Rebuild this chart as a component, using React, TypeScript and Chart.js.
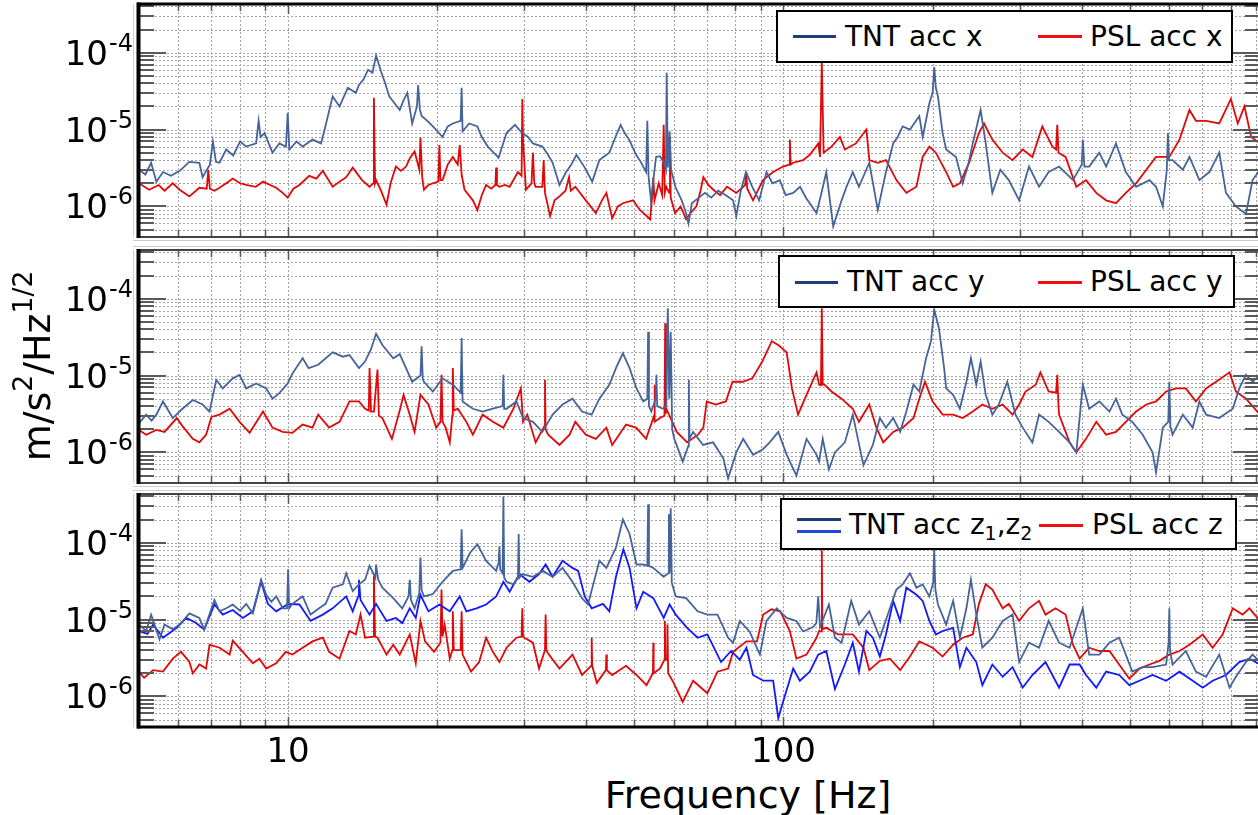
import React, { useEffect, useRef } from "react";
import { Chart, registerables } from "chart.js";

Chart.register(...registerables);

// ---------- axes ----------
const FREQ_MIN = 5;
const FREQ_MAX = 916;
const ASD_MIN = 4e-7;
const ASD_MAX = 4.3e-4;
const UNIT = 1e-6; // series values are given in units of 1e-6 m/s^2/Hz^1/2

const xGridValues = [6, 7, 8, 9, 10, 20, 30, 40, 50, 60, 70, 80, 90, 100, 200, 300, 400, 500, 600, 700, 800, 900];
const xMajorValues = [10, 100];
const xTickLabels = ["10", "100"];
const yMantissas = [1, 2, 3, 4, 5, 6, 7, 8, 9];
const yExponents = [-7, -6, -5, -4];
const yLabelExponents = [-4, -5, -6];
const yTickLabelBase = "10";

// ---------- series: [frequency Hz, value in 1e-6 m/s^2/Hz^1/2] ----------
type Pt = [number, number];

const tntX: Pt[] = [
  [5.0, 3.0], [5.15, 2.6], [5.29, 3.7], [5.42, 2.1], [5.59, 2.8], [5.8, 2.5], [6.04, 2.9], [6.32, 3.8], [6.62, 3.7], [6.72, 2.4],
  [6.95, 3.5], [7.05, 7.0], [7.15, 3.8], [7.27, 3.7], [7.5, 5.5], [7.75, 4.6], [8.0, 7.0], [8.23, 6.0], [8.62, 6.6], [8.72, 13],
  [8.8, 8], [8.96, 9], [9.3, 5], [9.6, 6.6], [9.9, 6], [9.98, 16.5], [10.06, 5.5], [10.4, 7], [10.7, 6], [11.2, 7.4],
  [11.65, 6.6], [11.85, 10], [12.3, 27], [12.7, 20], [13.2, 35], [13.7, 30], [13.9, 38], [14.2, 45], [14.5, 60], [14.8, 55],
  [15.05, 92], [15.4, 57], [15.7, 40], [16.0, 27], [16.4, 22], [16.8, 18], [17.1, 24], [17.4, 30], [17.8, 12], [18.2, 20],
  [18.3, 38], [18.45, 18], [18.6, 15], [19.1, 13], [19.6, 11], [20.5, 8], [21.0, 11], [21.5, 12], [22.3, 13], [22.4, 35],
  [22.5, 9.5], [23.2, 12], [24.1, 11], [24.6, 8], [25.3, 6], [26.0, 5], [26.6, 4.3], [27.6, 9], [28.7, 11.5], [29.7, 9],
  [30.5, 8], [31.2, 6.6], [32.6, 6], [33.4, 4.8], [34.2, 3.7], [35.3, 1.9], [36.4, 2.8], [37.3, 3.5], [38.2, 4.7], [39.7, 3.2],
  [41.1, 2.1], [42.5, 4], [43.5, 4.5], [44.5, 5], [45.8, 8], [46.9, 11.5], [47.8, 9], [48.8, 7.4], [50.4, 4.7], [51.5, 3.8],
  [52.8, 2.8], [53.1, 13], [53.4, 2.5], [54.0, 1.2], [55.3, 4.4], [56.3, 4.5], [57.4, 3.7], [57.9, 3.0], [58.1, 55], [58.4, 3.2],
  [58.9, 9.5], [59.3, 3], [60.5, 1.8], [62.3, 1.2], [63.3, 0.9], [64.3, 0.6], [65.3, 1.1], [67.5, 1.3], [69.4, 1.5], [71.5, 1.3],
  [73.8, 1.6], [76.5, 1.4], [79.1, 1.2], [80.3, 0.75], [82, 1.6], [84.0, 2.8], [86.5, 1.8], [89.3, 1.2], [92.4, 2.8], [95, 2.0],
  [98.3, 2.2], [101, 1.4], [104.6, 1.5], [108, 1.8], [111, 1.3], [116.6, 0.82], [119, 1.4], [122, 2.8], [126, 0.55], [131, 1.2],
  [134, 1.8], [138, 2.8], [142, 1.8], [149, 3.7], [155, 0.9], [161, 2.8], [166.5, 6.6], [170, 8], [174, 11], [180, 10],
  [188, 15], [191, 8], [197, 22], [200, 30], [201.5, 65], [203, 35], [205, 27], [209.5, 9], [213, 5.5], [223, 4.4],
  [230, 2], [236, 3.5], [241, 6.6], [250, 18], [256, 6.6], [264, 1.5], [274, 3], [285, 2.2], [299, 1.2], [313, 3.3],
  [328, 1.8], [343, 2.8], [360, 3.3], [384, 2.2], [400, 3.5], [402, 7.4], [405, 3.3], [414, 3.3], [434, 5], [448, 3.3],
  [469, 6.6], [491, 2.8], [515, 1.8], [548, 2.2], [565, 1.8], [583, 1.0], [594, 3], [597, 9], [600, 4], [610, 4],
  [640, 3], [660, 4.4], [691, 2.2], [724, 2.8], [758, 5], [782, 1.5], [819, 1.0], [858, 0.8], [885, 2.2], [916, 3],
];

const pslX: Pt[] = [
  [5.0, 2.0], [5.24, 1.65], [5.48, 1.9], [5.63, 1.6], [5.85, 2.0], [6.04, 1.65], [6.32, 1.35], [6.62, 1.75], [6.85, 1.7], [6.9, 3.0],
  [6.95, 1.7], [7.1, 1.6], [7.27, 1.75], [7.5, 2.0], [7.73, 2.3], [8.0, 2.0], [8.23, 1.9], [8.6, 1.8], [8.9, 2.1], [9.2, 1.9],
  [9.46, 1.75], [9.75, 1.5], [9.98, 1.3], [10.25, 1.7], [10.54, 1.9], [11.03, 2.5], [11.4, 2.3], [11.75, 2.9], [12.3, 1.8], [12.7, 2.1],
  [13.1, 2.4], [13.5, 3.2], [14.1, 2.2], [14.6, 1.8], [14.85, 2.0], [14.9, 26], [14.98, 2.0], [15.05, 2.2], [15.4, 1.6], [15.8, 1.05],
  [16.1, 2.0], [16.5, 3.3], [16.9, 2.9], [17.3, 3.3], [17.6, 4.2], [18.0, 5.2], [18.4, 3.0], [18.5, 7.8], [18.65, 2.4], [18.8, 1.65],
  [19.2, 1.9], [19.6, 2.0], [20.1, 2.1], [20.2, 6.3], [20.3, 2.2], [20.5, 2.2], [21.0, 3.5], [21.5, 4.4], [22.0, 3.5], [22.2, 6.3],
  [22.4, 2.6], [22.7, 1.65], [23.6, 1.2], [24.1, 0.9], [24.6, 1.4], [25.1, 1.9], [25.7, 1.7], [26.2, 1.9], [26.3, 3.2], [26.4, 1.9],
  [26.7, 1.8], [27.4, 1.9], [28.0, 1.8], [29.1, 2.8], [29.6, 2.5], [29.7, 25], [29.8, 7.4], [30.0, 3.5], [30.2, 1.65], [31.0, 2.0],
  [31.2, 5], [31.4, 2.0], [31.6, 1.8], [32.6, 1.8], [32.8, 4], [33.0, 1.5], [33.8, 0.75], [34.5, 1.2], [35.3, 1.35], [36.3, 1.6],
  [36.9, 2.4], [37.2, 1.6], [38.0, 1.8], [39.9, 1.2], [41.8, 0.82], [43.0, 1.2], [43.9, 1.5], [45.1, 0.7], [46.3, 1.0], [47.4, 1.1],
  [49.7, 1.2], [51.3, 0.9], [53.8, 0.68], [54.4, 1.5], [54.6, 2.4], [54.9, 1.2], [56.0, 2.0], [56.9, 1.4], [57.3, 11.5], [57.6, 1.5],
  [58.0, 1.8], [58.8, 1.5], [59.0, 8], [59.2, 1.3], [60.4, 0.82], [62.0, 1.0], [63.6, 0.68], [65.2, 0.85], [66.7, 1.0], [68.0, 1.6],
  [68.9, 2.4], [70.5, 1.9], [72.2, 1.65], [74.5, 1.4], [76.9, 1.8], [80.3, 1.5], [83.7, 1.9], [84.1, 2.8], [84.5, 1.7], [86.8, 1.2],
  [90.9, 2.2], [95.3, 2.8], [99.8, 3.3], [102.6, 3.5], [103, 7.4], [103.4, 3.5], [104.6, 3.7], [109.5, 4], [113, 4.7], [117.6, 6.6],
  [118.5, 4.4], [119.5, 75], [120.5, 5], [125, 6], [130, 8], [133, 5.5], [140, 6.6], [147, 10], [149, 4], [155, 3.7],
  [161, 4], [169, 2.2], [177, 1.5], [185.5, 1.8], [191, 4.4], [197, 6], [203, 5], [213, 2.8], [220, 1.8], [227, 2],
  [237, 3.7], [248, 9], [254, 12], [264, 7.4], [277, 5], [290, 4], [304, 5.5], [318, 4.4], [333, 11], [349, 6],
  [355, 5.5], [357, 11.5], [359, 5], [371, 4.4], [390, 1.8], [408, 2.2], [428, 1.5], [448, 1.2], [469, 1.1], [491, 1.5],
  [515, 2.0], [540, 3.0], [565, 4.4], [601, 4.4], [630, 7.4], [660, 18], [680, 13], [713, 13], [758, 12], [800, 25],
  [826, 12], [852, 20], [879, 8], [916, 6.6],
];

const tntY: Pt[] = [
  [5.0, 2.4], [5.17, 3.1], [5.3, 2.6], [5.42, 3.1], [5.59, 4.6], [5.85, 2.8], [6.12, 3.7], [6.42, 4.8], [6.72, 4.2], [6.94, 3.4],
  [7.16, 8.8], [7.38, 6.8], [7.73, 9.2], [7.98, 10.2], [8.23, 6.8], [8.62, 7.9], [9.03, 6.8], [9.3, 5], [9.6, 5.9], [9.98, 7.9],
  [10.2, 10.6], [10.7, 16.8], [11.0, 12.5], [11.5, 13.8], [12.3, 20], [12.9, 17.6], [13.3, 18.5], [13.9, 12.5], [14.3, 15.2], [14.7, 22],
  [15.05, 35], [15.5, 25], [16.3, 16.8], [16.8, 19], [17.3, 12.5], [17.8, 8.3], [18.5, 10], [18.6, 24], [18.7, 9], [18.8, 8.3],
  [19.6, 6.2], [20.5, 9.2], [21.5, 7.6], [22.3, 6], [22.4, 30.7], [22.5, 4.6], [23.6, 3.7], [24.7, 3.4], [25.9, 3.7], [27.1, 4],
  [27.2, 10.2], [27.3, 3.7], [27.6, 3.7], [28.9, 4.6], [29.8, 2.8], [31.2, 2.5], [32.6, 1.85], [34.2, 3.1], [35.8, 4.2], [37.5, 5],
  [39.2, 3.4], [41.0, 3.1], [42.5, 5], [44.5, 7.6], [45.9, 12.5], [47.4, 19.5], [48.9, 12.5], [50.5, 6.8], [52.1, 4.6], [53.1, 5],
  [53.3, 37], [53.5, 4], [54.1, 3.4], [55.2, 5], [55.4, 10.2], [55.6, 4], [57.1, 3.7], [58.0, 4], [58.4, 75], [58.8, 5],
  [59.2, 37], [59.6, 2], [60.2, 1.5], [62.6, 0.76], [64.2, 1.2], [64.4, 8.8], [64.6, 1.5], [65.7, 1.85], [68.8, 1.25], [72.1, 1.35],
  [75.6, 0.84], [77.3, 0.46], [80.3, 1.0], [82.9, 1.5], [86.8, 0.93], [90.9, 1.1], [93.8, 1.35], [97.6, 1.85], [101.5, 0.93], [106.2, 0.5],
  [111.3, 1.5], [116.6, 0.93], [118, 0.76], [120, 1.5], [123.5, 0.6], [127, 1.0], [133, 1.35], [138, 3.1], [145, 0.68], [151.5, 1.25],
  [156.5, 2.8], [161, 2.1], [166.5, 2.8], [172, 1.85], [177, 3.4], [183, 7.6], [188, 6.2], [194, 16.8], [198.5, 28], [201.5, 72],
  [206, 41], [211, 12.5], [213, 6.8], [220, 5.6], [227, 3.7], [234, 8.3], [239, 16.8], [245, 7.6], [250, 15.2], [256, 5.6],
  [264, 3.1], [272, 4.2], [283, 8.3], [294, 3.1], [304, 2.1], [318, 1.35], [328, 3.1], [343, 2.5], [360, 1.85], [378, 1.35],
  [390, 1.0], [402, 7.6], [414, 3.7], [434, 4.6], [455, 3.4], [469, 5], [483, 3.1], [506, 2.5], [531, 1.7], [556, 1.0],
  [565, 0.55], [583, 2.1], [598, 2.5], [601, 8.3], [604, 2.2], [610, 1.7], [640, 3.1], [670, 2.1], [691, 4.6], [713, 3.1],
  [758, 2.8], [807, 3.7], [832, 6.8], [858, 10.2], [885, 8.3], [916, 10.2],
];

const pslY: Pt[] = [
  [5.0, 1.96], [5.17, 1.7], [5.42, 1.96], [5.63, 1.85], [5.96, 2.8], [6.12, 2.2], [6.42, 1.5], [6.62, 1.35], [6.83, 1.7], [7.0, 2.9],
  [7.27, 3.1], [7.62, 3.7], [7.98, 2.5], [8.36, 1.8], [8.9, 3.4], [9.3, 2.1], [9.75, 1.85], [10.2, 1.8], [10.7, 2.3], [11.2, 2.1],
  [11.5, 3.1], [12.1, 2.1], [12.7, 2.5], [13.3, 4.6], [13.9, 4.6], [14.3, 3.7], [14.55, 3.5], [14.6, 12.5], [14.7, 3.4], [14.9, 3.4],
  [15.15, 12], [15.25, 3.0], [15.5, 2.8], [16.2, 1.5], [16.8, 3.5], [17.1, 5.6], [17.6, 3.1], [18.0, 1.85], [18.5, 5.6], [19.2, 4.2],
  [19.9, 2.1], [20.3, 2.5], [20.4, 10.2], [20.5, 2.5], [20.8, 2.1], [21.2, 1.35], [21.45, 3], [21.5, 12.5], [21.6, 3.5], [22.0, 3.7],
  [22.9, 2.5], [23.6, 1.7], [24.7, 3.1], [25.9, 2.5], [27.2, 2.1], [28.5, 3.7], [29.5, 6.8], [29.8, 2.5], [30.4, 3.1], [31.6, 1.35],
  [32.9, 2.2], [33.0, 8.8], [33.1, 2], [33.5, 1.7], [35.3, 1.25], [37.0, 1.7], [38.0, 2.5], [39.9, 1.7], [41.8, 1.5], [43.9, 2.1],
  [45.1, 1.25], [48.1, 2.3], [50.4, 2.1], [52.8, 1.5], [54.8, 3], [54.9, 7.6], [55.0, 2.5], [56.3, 2.8], [57.5, 3], [57.7, 48],
  [57.9, 3.2], [58.0, 3.7], [60.9, 1.85], [63.9, 1.35], [67.2, 1.7], [68.9, 2.1], [70.0, 4.6], [72.9, 4.2], [76.5, 4.6], [78.9, 8.3],
  [82.7, 8.3], [86.5, 9.2], [90.6, 15.2], [94.7, 28], [97.6, 25], [101.5, 20], [104, 6.8], [107, 3.1], [111.3, 5.6], [116.6, 11],
  [118, 7.6], [119, 7.5], [119.5, 75], [120, 7.6], [121, 7.6], [125, 6.2], [131, 5], [138, 3.7], [142, 2.5], [149, 4.2],
  [154, 2.1], [159, 1.35], [166.5, 1.85], [174, 2.1], [183, 2.8], [188, 5], [193, 8.3], [200, 4.6], [209.5, 3.1], [220, 3.1],
  [230, 2.8], [241, 3.4], [252, 4.2], [264, 3.7], [277, 4.2], [290, 3.1], [299, 4.2], [308, 6.2], [323, 7.6], [330, 11],
  [343, 6.2], [355, 6], [357, 10.2], [359, 4], [360, 3.1], [378, 1.35], [390, 1.0], [408, 1.5], [428, 2.5], [448, 1.7],
  [469, 1.85], [491, 2.5], [515, 3.4], [540, 4.2], [565, 4.6], [592, 6.2], [620, 6.8], [649, 6.8], [680, 4.6], [713, 6.8],
  [747, 8.3], [795, 11], [819, 6.2], [858, 5], [916, 3.1],
];

const tntZ1: Pt[] = [
  [5.0, 8.6], [5.17, 7.1], [5.29, 11.6], [5.5, 5.5], [5.63, 8.6], [5.85, 7.5], [6.04, 8.6], [6.32, 12], [6.62, 10.5], [6.77, 7.4],
  [7.1, 18], [7.27, 12.8], [7.5, 14], [7.73, 15.7], [8.0, 13], [8.23, 16], [8.49, 12], [8.82, 33], [9.03, 21], [9.25, 17],
  [9.46, 20], [9.76, 14], [9.95, 14], [10.0, 45], [10.05, 14], [10.2, 16], [10.7, 20], [11.1, 11.6], [11.55, 14], [11.9, 16],
  [12.3, 26], [12.9, 28.7], [13.1, 40], [13.5, 23.5], [13.9, 28.7], [14.3, 33], [14.6, 50], [15.0, 35], [15.05, 52], [15.2, 33],
  [15.5, 26], [16.3, 19], [17.0, 14], [17.5, 20], [17.6, 33], [17.7, 18], [18.0, 14], [18.4, 22], [18.5, 64], [18.6, 24],
  [18.8, 20], [19.6, 21.5], [20.5, 31], [21.5, 43], [22.3, 45], [22.4, 150], [22.5, 47], [23.3, 74], [24.1, 95], [25.1, 58],
  [26.3, 43], [26.6, 55], [26.7, 90], [26.8, 45], [27.1, 40], [27.2, 400], [27.3, 35], [27.6, 31], [28.5, 28.7], [29.1, 35],
  [29.2, 130], [29.3, 35], [29.7, 39], [31.2, 36], [32.7, 43], [34.2, 36], [35.8, 47], [37.5, 31], [39.2, 19], [40.3, 15.7],
  [42.5, 58], [43.9, 47], [45.9, 86], [47.4, 200], [48.9, 130], [50.5, 52], [52.1, 52], [53.1, 50], [53.3, 317], [53.5, 50],
  [54.6, 47], [57.3, 36], [58.5, 40], [58.7, 235], [58.9, 40], [59.2, 280], [59.5, 30], [60.6, 20], [63.6, 19], [67.1, 12.8],
  [70.2, 11.6], [73.6, 11.6], [77.3, 5.8], [79.1, 5.0], [81.6, 9.6], [85.4, 7], [89.6, 3.5], [92.4, 9.6], [96.9, 14], [101.5, 10.5],
  [106.2, 9.6], [109.5, 7], [114.7, 8], [116.5, 9], [117.5, 20], [118.5, 8], [123.5, 15.7], [127, 5.8], [131, 5], [137, 17.5],
  [142, 8.6], [149, 12.8], [156.5, 5.8], [164, 14], [169, 24.5], [174, 28.7], [180, 40], [185.5, 26], [191, 28.7], [197, 20],
  [200.5, 30], [201.5, 82], [202.5, 25], [205, 15.7], [213, 8.6], [220, 17.5], [227, 5.8], [234, 14], [239, 33], [245, 11.6],
  [252, 4.3], [264, 5.8], [277, 9.6], [290, 11.6], [299, 2.8], [313, 5], [328, 4.3], [343, 9.6], [360, 5], [378, 4.3],
  [402, 14], [414, 3.5], [434, 3.5], [455, 5], [476, 5.8], [491, 3.5], [506, 2.1], [531, 2.4], [556, 2.4], [592, 2.6],
  [599, 5], [601, 14], [603, 4], [610, 2.6], [649, 3.9], [680, 2.1], [713, 1.8], [758, 3.5], [795, 1.3], [819, 1.8],
  [858, 2.8], [885, 3.5], [916, 2.8],
];

const tntZ2: Pt[] = [
  [5.0, 7.1], [5.2, 6.5], [5.34, 8.6], [5.59, 5.8], [5.96, 7.8], [6.23, 10.5], [6.52, 9], [6.77, 7.4], [7.1, 15.7], [7.38, 11.6],
  [7.73, 13.3], [8.1, 10.5], [8.49, 12.8], [8.82, 31], [9.1, 16], [9.46, 12.8], [10.0, 16], [10.54, 15.7], [11.1, 9.6], [11.75, 11.6],
  [12.3, 14], [13.1, 20], [13.5, 12.8], [13.85, 20], [13.9, 33], [14.0, 18], [14.6, 11.6], [15.05, 16], [15.8, 9.6], [16.5, 10.5],
  [17.0, 9], [17.6, 14], [18.1, 10.5], [18.5, 21], [19.2, 12.8], [20.2, 15.7], [21.2, 12.8], [22.2, 20], [22.9, 12.8], [24.0, 14],
  [25.1, 15.7], [26.3, 20], [27.2, 31], [28.0, 23], [29.3, 39], [30.7, 31], [32.1, 39], [33.1, 52], [34.2, 36], [35.8, 58],
  [37.5, 47], [38.5, 43], [39.7, 20], [41.0, 14], [43.2, 16], [44.5, 12.8], [45.9, 36], [47.5, 82], [48.9, 47], [50.5, 14],
  [52.1, 23], [54.6, 19], [57.3, 10.5], [58.9, 15.7], [60.6, 11.6], [63.9, 7.8], [67.1, 5.8], [70.2, 6.4], [74.8, 2.8], [78.4, 3.9],
  [81.6, 3.0], [84.2, 4.3], [86.8, 1.9], [91.0, 1.6], [95.3, 1.6], [97.6, 0.52], [99.8, 0.85], [104.6, 2.3], [107.9, 1.6], [113, 2.1],
  [117.5, 3.5], [122, 3.9], [127, 1.25], [133, 2.6], [138, 5], [142, 2.1], [147, 7.1], [151.5, 5.8], [156.5, 3.3], [161, 6.4],
  [166.5, 17.5], [172, 9.6], [177, 26], [185.5, 21], [191, 17.5], [197, 9.6], [203, 6.4], [209.5, 7.1], [220, 7.8], [227, 2.4],
  [234, 4.3], [245, 2.8], [252, 1.4], [264, 2.6], [277, 1.8], [290, 2.4], [304, 1.3], [318, 1.9], [338, 2.8], [360, 1.3],
  [378, 2.6], [396, 2.6], [408, 1.9], [428, 1.3], [448, 2.1], [476, 1.9], [499, 1.4], [523, 1.6], [556, 1.9], [592, 1.6],
  [630, 2.1], [670, 1.6], [702, 1.3], [735, 1.6], [782, 1.9], [832, 2.8], [872, 3.1], [916, 2.6],
];

const pslZ: Pt[] = [
  [5.0, 2.1], [5.12, 1.75], [5.34, 2.2], [5.59, 2.1], [5.85, 3.1], [6.08, 3.8], [6.32, 2.8], [6.42, 2.0], [6.62, 2.6], [6.83, 2.3],
  [6.94, 4.7], [7.27, 4.3], [7.62, 3.5], [7.73, 5.3], [8.1, 3.8], [8.49, 2.7], [8.75, 3.1], [9.03, 2.3], [9.46, 2.7], [9.89, 3.8],
  [10.2, 3.5], [10.7, 4.3], [11.2, 5.2], [11.75, 5.8], [12.1, 3.8], [12.7, 3.1], [13.3, 7.1], [13.7, 6.4], [14.0, 11.6], [14.3, 5.8],
  [14.85, 6], [14.9, 37], [14.98, 6], [15.15, 5.8], [15.8, 3.5], [16.3, 4.7], [16.8, 3.5], [17.6, 6.4], [18.1, 2.7], [18.5, 9.6],
  [18.9, 5.2], [19.7, 3.8], [20.3, 5], [20.4, 24.6], [20.5, 6], [20.7, 8.6], [21.2, 3.1], [21.45, 4], [21.5, 12.8], [21.6, 4],
  [22.3, 4], [22.4, 12.8], [22.5, 3.5], [22.9, 2.8], [23.4, 2.1], [24.3, 2.8], [25.1, 5.8], [25.9, 3.8], [26.7, 2.8], [27.6, 4.3],
  [28.9, 5.8], [29.6, 6], [29.7, 14], [29.8, 6], [30.0, 5.8], [31.2, 5], [32.1, 2.3], [33.0, 4], [33.1, 11.6], [33.2, 4],
  [33.6, 3.5], [35.3, 2.3], [37.5, 3.5], [39.2, 1.9], [40.9, 2.5], [41.0, 5.8], [41.1, 2.5], [42.0, 1.5], [43.8, 2.2], [43.9, 3.5],
  [44.0, 2.2], [45.1, 1.9], [48.1, 2.5], [50.5, 1.9], [52.9, 1.4], [54.5, 2], [54.6, 5], [54.7, 2], [56.3, 2.3], [57.5, 3],
  [57.6, 9.6], [57.8, 3], [58.2, 3], [58.3, 8.6], [58.5, 2], [59.7, 1.6], [62.6, 0.85], [65.7, 1.6], [70.2, 1.1], [73.6, 2.1],
  [77.3, 2.3], [79.1, 3.8], [84.2, 5.2], [88.4, 5.2], [91.0, 11.6], [94.6, 13.6], [98.5, 12.8], [103, 7.1], [106.2, 3.1], [111.3, 3.5],
  [116.6, 5.8], [118, 7.1], [119.2, 7], [119.5, 80], [119.8, 7.5], [122, 7.8], [129, 6.4], [138, 6.4], [145, 4.3], [149, 2.2],
  [156.5, 2.9], [164, 3.1], [172, 2.2], [180, 3.3], [188, 5.2], [200, 4.3], [209.5, 3.3], [220, 4.7], [230, 5.8], [241, 6.4],
  [248, 16], [256, 28.7], [264, 24.5], [277, 14], [285, 16], [299, 9.6], [313, 14], [328, 17.5], [338, 11.6], [354, 14],
  [371, 11.6], [384, 4.7], [396, 3.1], [414, 4.3], [434, 3.9], [455, 3.9], [476, 2.6], [499, 1.7], [523, 2.3], [548, 2.6],
  [574, 2.9], [601, 3.5], [630, 3.9], [660, 4.7], [702, 6.4], [735, 4.3], [770, 6.4], [807, 14], [845, 11.6], [872, 14],
  [916, 9.6],
];

// ---------- styles ----------
const FONT = "'DejaVu Sans', 'Liberation Sans', sans-serif";
const TNT_COLOR = "#45649a";
const Z2_COLOR = "#1218ff";
const PSL_COLOR = "#e00808";
const TNT_LEGEND = "#1e3c7a";
const Z2_LEGEND = "#1f48dc";
const PSL_LEGEND = "#f01010";
const LINE_W = 1.8;

const yGridValues: number[] = [];
yExponents.forEach((e) => yMantissas.forEach((m) => {
  const v = m * Math.pow(10, e);
  if (v > ASD_MIN * 1.01 && v < ASD_MAX) yGridValues.push(v);
}));

type Series = { label: string; points: Pt[]; color: string; width: number };
type PanelCfg = {
  key: string; top: number; height: number; padTop: number; padBottom: number;
  topThick: boolean; bottomThick: boolean; xLabels: boolean; series: Series[];
};

const PANELS: PanelCfg[] = [
  {
    key: "x", top: 0, height: 244, padTop: 4, padBottom: 7, topThick: true, bottomThick: false, xLabels: false,
    series: [
      { label: "TNT acc x", points: tntX, color: TNT_COLOR, width: LINE_W },
      { label: "PSL acc x", points: pslX, color: PSL_COLOR, width: LINE_W },
    ],
  },
  {
    key: "y", top: 244, height: 244, padTop: 6, padBottom: 5, topThick: false, bottomThick: false, xLabels: false,
    series: [
      { label: "TNT acc y", points: tntY, color: TNT_COLOR, width: LINE_W },
      { label: "PSL acc y", points: pslY, color: PSL_COLOR, width: LINE_W },
    ],
  },
  {
    key: "z", top: 488, height: 282, padTop: 6, padBottom: 43, topThick: false, bottomThick: true, xLabels: true,
    series: [
      { label: "TNT acc z1", points: tntZ1, color: TNT_COLOR, width: LINE_W },
      { label: "TNT acc z2", points: tntZ2, color: Z2_COLOR, width: LINE_W },
      { label: "PSL acc z", points: pslZ, color: PSL_COLOR, width: LINE_W },
    ],
  },
];

function isDecade(v: number) {
  const l = Math.log10(v);
  return Math.abs(l - Math.round(l)) < 1e-6;
}

function makeFramePlugin(p: PanelCfg) {
  return {
    id: "frame_" + p.key,
    beforeDatasetsDraw(chart: any) {
      const { ctx, chartArea: a, scales } = chart;
      const xs = scales.x;
      const ys = scales.y;
      ctx.save();
      ctx.strokeStyle = "#a4a4a4";
      ctx.lineWidth = 1;
      ctx.setLineDash([2, 2]);
      ctx.beginPath();
      for (const v of xGridValues) {
        const x = Math.round(xs.getPixelForValue(v)) + 0.5;
        ctx.moveTo(x, a.top);
        ctx.lineTo(x, a.bottom);
      }
      for (const v of yGridValues) {
        const y = Math.round(ys.getPixelForValue(v)) + 0.5;
        ctx.moveTo(a.left, y);
        ctx.lineTo(a.right, y);
      }
      ctx.stroke();
      ctx.restore();
    },
    afterDatasetsDraw(chart: any) {
      const { ctx, chartArea: a, scales } = chart;
      const xs = scales.x;
      const ys = scales.y;
      ctx.save();
      // tick marks (inward)
      ctx.strokeStyle = "#5a5a5a";
      ctx.lineWidth = 2;
      ctx.beginPath();
      for (const v of yGridValues) {
        const y = Math.round(ys.getPixelForValue(v));
        const len = isDecade(v) ? 27 : 15;
        ctx.moveTo(a.left, y);
        ctx.lineTo(a.left + len, y);
        ctx.moveTo(a.right, y);
        ctx.lineTo(a.right - len, y);
      }
      ctx.stroke();
      ctx.lineWidth = 1.5;
      ctx.beginPath();
      for (const v of xGridValues) {
        const x = Math.round(xs.getPixelForValue(v)) + 0.5;
        const len = isDecade(v) ? 10 : 7;
        ctx.moveTo(x, a.top);
        ctx.lineTo(x, a.top + len);
        ctx.moveTo(x, a.bottom);
        ctx.lineTo(x, a.bottom - len);
      }
      ctx.stroke();

      // outer light frame lines
      ctx.strokeStyle = "#cfcfcf";
      ctx.lineWidth = 1;
      ctx.beginPath();
      ctx.moveTo(a.left - 5.5, a.top);
      ctx.lineTo(a.left - 5.5, a.bottom);
      if (!p.topThick) {
        ctx.moveTo(a.left - 6, a.top - 3.5);
        ctx.lineTo(a.right, a.top - 3.5);
      }
      if (!p.bottomThick) {
        ctx.moveTo(a.left - 6, a.bottom + 3.5);
        ctx.lineTo(a.right, a.bottom + 3.5);
      }
      ctx.stroke();

      // borders
      ctx.strokeStyle = "#444";
      ctx.lineWidth = 2;
      ctx.beginPath();
      if (!p.topThick) { ctx.moveTo(a.left, a.top); ctx.lineTo(a.right, a.top); }
      if (!p.bottomThick) { ctx.moveTo(a.left, a.bottom); ctx.lineTo(a.right, a.bottom); }
      ctx.moveTo(a.right, a.top);
      ctx.lineTo(a.right, a.bottom);
      ctx.stroke();
      ctx.strokeStyle = "#000";
      ctx.lineWidth = 3;
      ctx.beginPath();
      if (p.topThick) { ctx.moveTo(a.left - 2, a.top); ctx.lineTo(a.right, a.top); }
      if (p.bottomThick) { ctx.moveTo(a.left - 2, a.bottom); ctx.lineTo(a.right, a.bottom); }
      ctx.stroke();
      ctx.lineWidth = 4;
      ctx.beginPath();
      ctx.moveTo(a.left - 0.5, a.top - (p.topThick ? 1.5 : 1));
      ctx.lineTo(a.left - 0.5, a.bottom + (p.bottomThick ? 1.5 : 1));
      ctx.stroke();

      // y tick labels: 10^e
      ctx.fillStyle = "#000";
      for (const e of yLabelExponents) {
        const y = ys.getPixelForValue(Math.pow(10, e));
        ctx.font = "34px " + FONT;
        ctx.textAlign = "right";
        ctx.textBaseline = "alphabetic";
        ctx.fillText(yTickLabelBase, a.left - 31, y + 12);
        ctx.font = "24px " + FONT;
        ctx.textAlign = "left";
        ctx.fillText(String(e), a.left - 30, y - 2);
      }
      // x tick labels
      if (p.xLabels) {
        ctx.font = "34px " + FONT;
        ctx.textAlign = "center";
        ctx.textBaseline = "alphabetic";
        xMajorValues.forEach((v, i) => {
          ctx.fillText(xTickLabels[i], xs.getPixelForValue(v), a.bottom + 35);
        });
      }
      ctx.restore();
    },
  };
}

function Panel({ cfg }: { cfg: PanelCfg }) {
  const ref = useRef<HTMLCanvasElement>(null);
  useEffect(() => {
    const canvas = ref.current;
    if (!canvas) return;
    const chart = new Chart(canvas, {
      type: "line",
      data: {
        datasets: cfg.series.map((s) => ({
          label: s.label,
          data: s.points.map(([f, v]) => ({ x: f, y: v * UNIT })),
          borderColor: s.color,
          backgroundColor: s.color,
          borderWidth: s.width,
          pointRadius: 0,
          tension: 0,
          fill: false,
        })),
      },
      options: {
        responsive: false,
        animation: false,
        devicePixelRatio: 1,
        events: [],
        layout: { padding: { left: 139, right: 2, top: cfg.padTop, bottom: cfg.padBottom } },
        scales: {
          x: { type: "logarithmic", min: FREQ_MIN, max: FREQ_MAX, display: false },
          y: { type: "logarithmic", min: ASD_MIN, max: ASD_MAX, display: false },
        },
        plugins: { legend: { display: false }, tooltip: { enabled: false }, title: { display: false } },
      } as any,
      plugins: [makeFramePlugin(cfg)],
    });
    return () => chart.destroy();
  }, [cfg]);
  return (
    <canvas
      ref={ref}
      width={1262}
      height={cfg.height}
      style={{ position: "absolute", left: 0, top: cfg.top, width: 1262, height: cfg.height, display: "block" }}
    />
  );
}

function Sample({ left, top, width, color }: { left: number; top: number; width: number; color: string }) {
  return <div style={{ position: "absolute", left, top, width, height: 3, background: color }} />;
}

function LText({ left, children }: { left: number; children: React.ReactNode }) {
  return <div style={{ position: "absolute", left, top: 0, height: 49, lineHeight: "49px" }}>{children}</div>;
}

function LegendBox({ left, top, height, children }: { left: number; top: number; height: number; children: React.ReactNode }) {
  return (
    <div
      style={{
        position: "absolute", left, top, width: 457, height, boxSizing: "border-box",
        border: "2px solid #000", background: "#fff", fontFamily: FONT, fontSize: 28, color: "#000", whiteSpace: "nowrap",
      }}
    >
      {children}
    </div>
  );
}

const subStyle: React.CSSProperties = { fontSize: "0.68em", position: "relative", top: "0.3em" };
const supStyle: React.CSSProperties = { fontSize: "0.7em", position: "relative", top: "-0.66em" };

export default function App() {
  return (
    <div style={{ position: "fixed", left: 0, top: 0, width: 1258, height: 815, overflow: "hidden", background: "#fff" }}>
      {PANELS.map((p) => (
        <Panel key={p.key} cfg={p} />
      ))}

      <LegendBox left={776} top={10} height={53}>
        <Sample left={15} top={23} width={43} color={TNT_LEGEND} />
        <LText left={67}>TNT acc x</LText>
        <Sample left={260} top={23} width={44} color={PSL_LEGEND} />
        <LText left={312}>PSL acc x</LText>
      </LegendBox>

      <LegendBox left={778} top={255} height={53}>
        <Sample left={15} top={24} width={43} color={TNT_LEGEND} />
        <LText left={67}>TNT acc y</LText>
        <Sample left={258} top={24} width={44} color={PSL_LEGEND} />
        <LText left={310}>PSL acc y</LText>
      </LegendBox>

      <LegendBox left={780} top={498} height={52}>
        <Sample left={15} top={17.5} width={44} color={TNT_LEGEND} />
        <Sample left={15} top={30} width={44} color={Z2_LEGEND} />
        <LText left={67}>
          TNT acc z<span style={subStyle}>1</span>,z<span style={subStyle}>2</span>
        </LText>
        <Sample left={257} top={24} width={44} color={PSL_LEGEND} />
        <LText left={310}>PSL acc z</LText>
      </LegendBox>

      <div
        style={{
          position: "absolute", left: 37 - 150, top: 366 - 19, width: 300, height: 38, lineHeight: "38px",
          fontSize: 38, textAlign: "center", transform: "rotate(-90deg)", transformOrigin: "50% 50%",
          fontFamily: FONT, whiteSpace: "nowrap", color: "#000",
        }}
      >
        m/s<span style={supStyle}>2</span>/Hz<span style={supStyle}>1/2</span>
      </div>

      <div
        style={{
          position: "absolute", left: 448, top: 776, width: 600, height: 38, lineHeight: "38px",
          fontSize: 38, textAlign: "center", fontFamily: FONT, whiteSpace: "nowrap", color: "#000",
        }}
      >
        Frequency [Hz]
      </div>
    </div>
  );
}
